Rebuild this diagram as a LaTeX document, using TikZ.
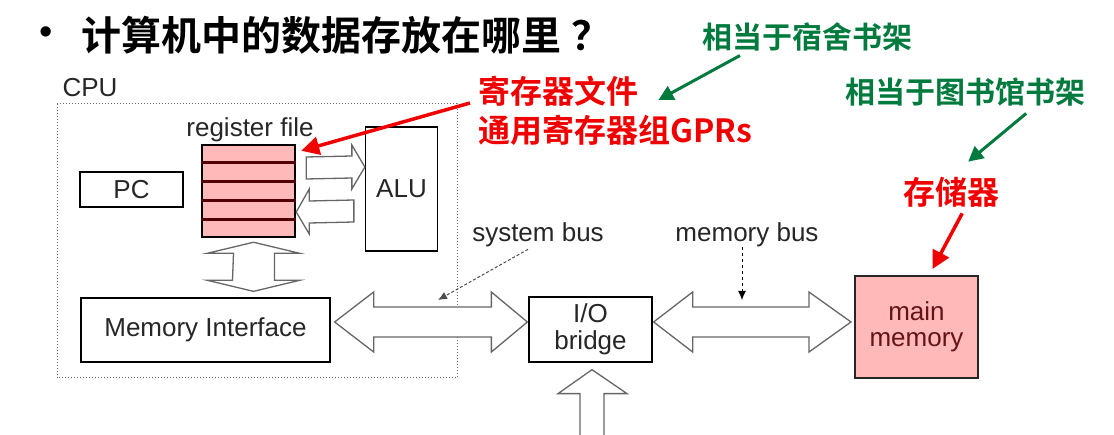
\documentclass[tikz,border=0pt]{standalone}
\usepackage{fontspec}
\setmainfont{Liberation Sans}
\newfontfamily\cjk{Noto Sans CJK SC}[BoldFont={Noto Sans CJK SC Bold}]
\usetikzlibrary{arrows.meta, calc}
\definecolor{regpink}{RGB}{255,185,185}
\definecolor{regline}{RGB}{80,0,0}
\definecolor{noteRed}{RGB}{240,0,0}
\definecolor{noteGreen}{RGB}{0,122,61}
\definecolor{memtext}{RGB}{100,20,20}

\tikzset{
	box/.style={draw, line width=1.3pt, inner sep=0pt, align=center,
		font=\fontsize{26}{27}\selectfont, text=black!85},
	lbl/.style={inner sep=0pt, font=\fontsize{26}{27}\selectfont, text=black!85},
	bus/.style={draw=black!60, line width=1.3pt, fill=white},
	pointer/.style={line width=1pt, -{Latex[length=9pt,width=8pt]}},
	redmark/.style={draw=noteRed, line width=3.5pt, -{Triangle[length=18pt,width=18pt]}},
	greenmark/.style={draw=noteGreen, line width=3pt, -{Triangle[length=15pt,width=15pt]}},
	note/.style={anchor=west, inner sep=0pt, text=noteRed, font=\cjk\bfseries\fontsize{32}{34}\selectfont},
	hint/.style={anchor=west, inner sep=0pt, text=noteGreen, font=\cjk\bfseries\fontsize{30}{32}\selectfont},
}

\begin{document}
\begin{tikzpicture}[x=1pt, y=-1pt]
	\useasboundingbox (0,0) rectangle (1114,435);

	% title
	\node (bullet) at (46,36) {\fontsize{38}{38}\selectfont\textbullet};
	\node[anchor=west, inner sep=0pt] (title) at (81,35) {\cjk\bfseries\fontsize{40}{42}\selectfont 计算机中的数据存放在哪里\hspace{10pt}？};

	% CPU
	\draw[dotted, line width=1pt, black!60] (57,104) rectangle (457,378);
	\node[lbl] (cpulbl) at (90,88) {CPU};
	\node[lbl] (reglbl) at (250,130) {register file};
	\node[box, minimum width=103, minimum height=35] (pc) at (131.5,189.5) {PC};
	\node[draw, line width=2.5pt, fill=regpink, minimum width=93, minimum height=92] (regfile) at (248.5,191) {};
	\foreach \k in {1,...,4}
		\draw[regline, line width=2.5pt] ($(regfile.north west)!\k/5!(regfile.south west)$) -- ($(regfile.north east)!\k/5!(regfile.south east)$);
	\node[box, minimum width=72, minimum height=124] (alu) at (401.5,189) {ALU};
	\node[box, minimum width=249, minimum height=64] (memif) at (205.5,330) {Memory Interface};

	% bridge and memory
	\node[box, minimum width=123, minimum height=65] (bridge) at (590.5,329.5) {I/O\\bridge};
	\node[draw=black!85, line width=2pt, fill=regpink, minimum width=123, minimum height=102,
		align=center, font=\fontsize{26}{26}\selectfont, text=memtext] (mainmem) at (916.5,327) {main\\memory};

	% register file <-> ALU
	\coordinate (toalu) at ($(alu.west)+(0,-22)$);
	\coordinate (toreg) at ($(regfile.east)+(0,21)$);
	\draw[bus] (toalu) -- ++(-13,-22) -- ++(0,11) -- ($(regfile.east)+(10,-34)$) -- ++(0,22) -- ($(toalu)+(-13,11)$) -- ++(0,11) -- cycle;
	\draw[bus] (toreg) -- ++(13,-23) -- ++(0,12) -- ($(alu.west)+(-11,11)$) -- ++(0,22) -- ($(toreg)+(13,11)$) -- ++(0,11) -- cycle;

	% register file <-> memory interface
	\coordinate (busup) at ($(regfile.south)+(5,4)$);
	\coordinate (busdn) at ($(memif.north)+(48,-6)$);
	\draw[bus] (busup) -- ++(46,11) -- ++(-25,0) -- ($(busdn)+(21,-11)$) -- ++(25,0) -- (busdn) -- ++(-46,-11) -- ++(25,0) -- ($(busup)+(-20,11)$) -- ++(-26,0) -- cycle;

	% system bus
	\coordinate (sysL) at ($(memif.east)+(4,-8)$);
	\coordinate (sysR) at ($(bridge.west)+(-1,-7.5)$);
	\draw[bus] (sysL) -- ++(39,-30) -- ++(0,15) -- ($(sysR)+(-36,-15)$) -- ++(0,-15) -- (sysR) -- ++(-36,30) -- ++(0,-15) -- ($(sysL)+(39,15)$) -- ++(0,15) -- cycle;

	% memory bus
	\coordinate (memL) at ($(bridge.east)+(1,-7.5)$);
	\coordinate (memR) at ($(mainmem.west)+(-3,-5)$);
	\draw[bus] (memL) -- ++(39,-30) -- ++(0,15) -- ($(memR)+(-42,-15)$) -- ++(0,-15) -- (memR) -- ++(-42,30) -- ++(0,-15) -- ($(memL)+(39,15)$) -- ++(0,15) -- cycle;

	% I/O bus below the bridge
	\coordinate (iotip) at ($(bridge.south)+(1.5,7)$);
	\draw[bus] (0,435 -| iotip) ++(-12,0) -- ($(iotip)+(-12,24)$) -- ++(-22,0) -- (iotip) -- ++(35,24) -- ++(-23,0) -- ++(0,42);

	% bus labels
	\node[lbl] (sbuslbl) at (538,235) {system bus};
	\node[lbl] (mbuslbl) at (747,235) {memory bus};
	\coordinate (sbustip) at (438,300);
	\coordinate (mbustip) at (742,300);
	\draw[pointer, densely dashed, black!70] ($(sbuslbl.south)+(-10,2)$) -- (sbustip);
	\draw[pointer, dashed] (mbuslbl.south -| mbustip) -- (mbustip);

	% notes
	\node[note] (regname) at (478,91) {寄存器文件};
	\node[note] (gprname) at (478,130) {通用寄存器组GPRs};
	\node[note] (storename) at (903,192) {存储器};
	\node[hint] (dorm) at (702,37) {相当于宿舍书架};
	\node[hint] (lib) at (845,92) {相当于图书馆书架};

	\draw[redmark] ($(regname.west)+(-8,12)$) -- ($(regfile.north east)+(5,7)$);
	\draw[redmark] ($(storename.south)+(11,6)$) -- ($(mainmem.north)+(16,-6)$);
	\draw[greenmark] ($(dorm.south west)+(38,4)$) -- ($(regname.east)+(20,9)$);
	\draw[greenmark] ($(lib.south)+(61,7)$) -- ($(storename.north)+(17,-15)$);
\end{tikzpicture}
\end{document}
